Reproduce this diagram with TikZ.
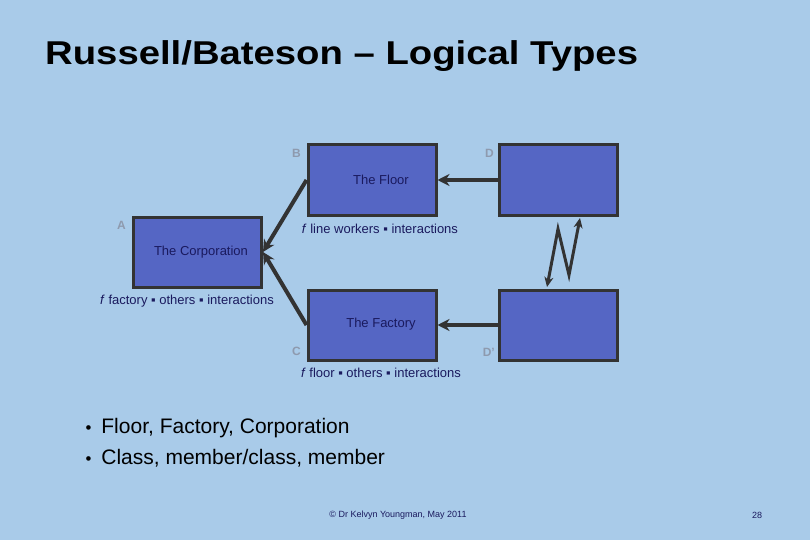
\documentclass[tikz,border=0pt]{standalone}
\usepackage{fontspec}
\setmainfont{Liberation Sans}
\usetikzlibrary{arrows.meta}
\definecolor{bg}{HTML}{A9CBE9}
\definecolor{boxf}{HTML}{5566C4}
\definecolor{edge}{HTML}{333333}
\definecolor{navy}{HTML}{1A1A5E}
\definecolor{lbl}{HTML}{8E9AAE}
\begin{document}
\begin{tikzpicture}[x=1pt,y=-1pt,
 bx/.style={draw=edge,line width=3pt,fill=boxf,minimum width=128pt,minimum height=70pt,inner sep=0pt},
 btxt/.style={font=\fontsize{13}{15}\selectfont,text=navy},
 corner/.style={font=\fontsize{12}{14}\selectfont\bfseries,text=lbl,anchor=east,inner sep=0pt},
 conn/.style={draw=edge,line width=4pt,-{Stealth[length=12pt,width=12pt]}},
 zz/.style={draw=edge,line width=3pt,{Stealth[length=10pt,width=9pt]}-{Stealth[length=10pt,width=9pt]}}]
\fill[bg] (0,0) rectangle (810,540);
\useasboundingbox (0,0) rectangle (810,540);
\node[anchor=base west,font=\fontsize{33}{36}\selectfont\bfseries,inner sep=0pt] (title) at (45,65) {\scalebox{1.16}[1]{Russell/Bateson – Logical Types}};
\node[bx] (corp) at (197.5,252) {};
\node[bx] (floor) at (372,180) {};
\node[bx] (fact) at (372,325) {};
\node[bx,minimum width=118pt] (d) at (558.5,180) {};
\node[bx,minimum width=118pt] (dp) at (558.5,325) {};
\node[btxt] (t1) at (381,180) {The Floor};
\node[btxt] (t2) at (201,252) {The Corporation};
\node[btxt] (t3) at (381,324) {The Factory};
\node[btxt] (s1) at (380,229) {\textit{f} line workers ▪ interactions};
\node[btxt] (s2) at (187,301) {\textit{f} factory ▪ others ▪ interactions};
\node[btxt] (s3) at (381,373) {\textit{f} floor ▪ others ▪ interactions};
\node[corner] (la) at (126,225) {A};
\node[corner] (lb) at (301,153) {B};
\node[corner] (lc) at (301,351) {C};
\node[corner] (ld) at (494,153) {D};
\node[corner] (ldp) at (495,352) {D’};
\draw[conn] (floor.west) -- (corp.east);
\draw[conn] (fact.west) -- (corp.east);
\draw[conn] (d.west) -- (floor.east);
\draw[conn] (dp.west) -- (fact.east);
\coordinate (z1) at (547,287);
\coordinate (z4) at (580,218);
\draw[zz] (z1) -- (558,229) -- (569,275) -- (z4);
\node[anchor=base west,font=\fontsize{21}{25}\selectfont] (b1) at (82,433) {\scalebox{0.8}{•}\hspace{10pt}Floor, Factory, Corporation};
\node[anchor=base west,font=\fontsize{21}{25}\selectfont] (b2) at (82,464) {\scalebox{0.8}{•}\hspace{10pt}Class, member/class, member};
\node[font=\fontsize{9}{11}\selectfont,text=navy] (ft) at (398,515) {© Dr Kelvyn Youngman, May 2011};
\node[font=\fontsize{9}{11}\selectfont,text=navy] (pg) at (757,515) {28};
\end{tikzpicture}
\end{document}
